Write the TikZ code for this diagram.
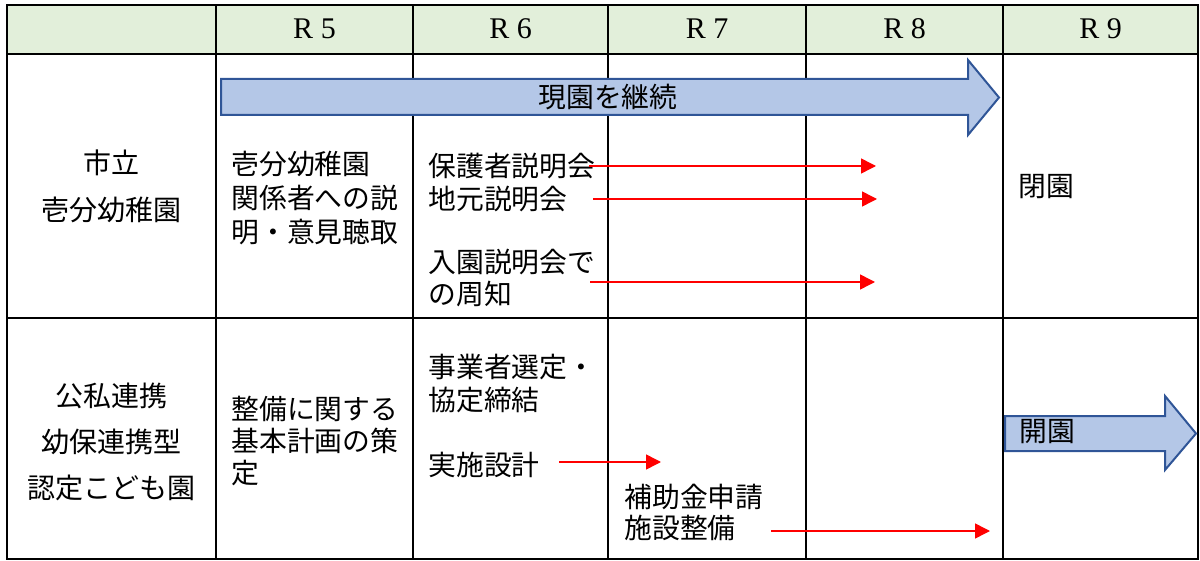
\documentclass[tikz,border=0pt]{standalone}
\usepackage{fontspec}
\setmainfont{Noto Sans CJK JP}
\newfontfamily\hdfont{Liberation Serif}
\usetikzlibrary{arrows.meta}
\definecolor{headgreen}{HTML}{E2EFDA}
\definecolor{arrowfill}{HTML}{B4C7E7}
\definecolor{arrowline}{HTML}{2F5597}
\begin{document}
\begin{tikzpicture}[x=0.5pt, y=-0.5pt,
    head/.style={inner sep=0pt, font=\hdfont\fontsize{15pt}{18pt}\selectfont},
    cell/.style={anchor=west, align=left, inner sep=0pt, font=\fontsize{13.9pt}{#1}\selectfont},
    cell/.default=17pt,
    side/.style={align=center, inner sep=0pt, font=\fontsize{14pt}{#1}\selectfont},
    plan/.style={fill=arrowfill, draw=arrowline, line width=1pt, line join=miter},
    step_arrow/.style={draw=red, line width=0.75pt, -{Triangle[length=7.5pt, width=7.5pt]}}]

    \useasboundingbox (0,0) rectangle (1200,561);

    % Grid
    \fill[headgreen] (7,5) rectangle (1198,54);
    \draw[line width=1pt] (7,5) rectangle (1198,559);
    \draw[line width=1pt] (7,54) -- (1198,54);
    \draw[line width=1pt] (7,318) -- (1198,318);
    \foreach \x in {216,413,608,806,1003}
        \draw[line width=1pt] (\x,5) -- (\x,559);

    % Header
    \foreach \n/\x in {5/314.5, 6/510.5, 7/707, 8/904.5, 9/1100.5}
        \node [head] (r\n) at (\x,29) {R \n};

    % Plan arrows
    \draw[plan] (221,79) -- (968,79) -- (968,60) -- (999,97.5) -- (968,135) -- (968,115) -- (221,115) -- cycle;
    \draw[plan] (1005,416) -- (1165,416) -- (1165,396) -- (1196,433.5) -- (1165,470) -- (1165,451) -- (1005,451) -- cycle;

    % Nodes
    \node [side=23.5pt] (shiritsu) at (111.5,186.5) {市立\\壱分幼稚園};
    \node [side=23pt] (koshi) at (111.5,441.5) {公私連携\\幼保連携型\\認定こども園};
    \node [inner sep=0pt, font=\fontsize{13.9pt}{17pt}\selectfont] (keizoku) at (608,97) {現園を継続};
    \node [cell] (setsumei) at (231,198.5) {壱分幼稚園\\関係者への説\\明・意見聴取};
    \node [cell=16.5pt] (hogosha) at (428,182.5) {保護者説明会\\地元説明会};
    \node [cell=16pt] (nyuen) at (428,278) {入園説明会で\\の周知};
    \node [cell] (heien) at (1018,187) {閉園};
    \node [cell=16pt] (kihon) at (231,441) {整備に関する\\基本計画の策\\定};
    \node [cell=16.5pt] (jigyosha) at (428,383.5) {事業者選定・\\協定締結};
    \node [cell] (jisshi) at (428,465) {実施設計};
    \node [cell=15.5pt] (hojo) at (624,512.5) {補助金申請\\施設整備};
    \node [cell] (kaien) at (1019,432) {開園};

    % Arrow ends
    \coordinate (hogo_s) at (589,166);
    \coordinate (hogo_e) at (876,166);
    \coordinate (jimoto_s) at (593,199);
    \coordinate (jimoto_e) at (877,199);
    \coordinate (nyuen_s) at (590,282);
    \coordinate (nyuen_e) at (875,282);
    \coordinate (jisshi_s) at (559,462);
    \coordinate (jisshi_e) at (661,462);
    \coordinate (seibi_s) at (771,531);
    \coordinate (seibi_e) at (990,531);

    % Arrows
    \draw[step_arrow] (hogo_s) -- (hogo_e);
    \draw[step_arrow] (jimoto_s) -- (jimoto_e);
    \draw[step_arrow] (nyuen_s) -- (nyuen_e);
    \draw[step_arrow] (jisshi_s) -- (jisshi_e);
    \draw[step_arrow] (seibi_s) -- (seibi_e);
\end{tikzpicture}
\end{document}
